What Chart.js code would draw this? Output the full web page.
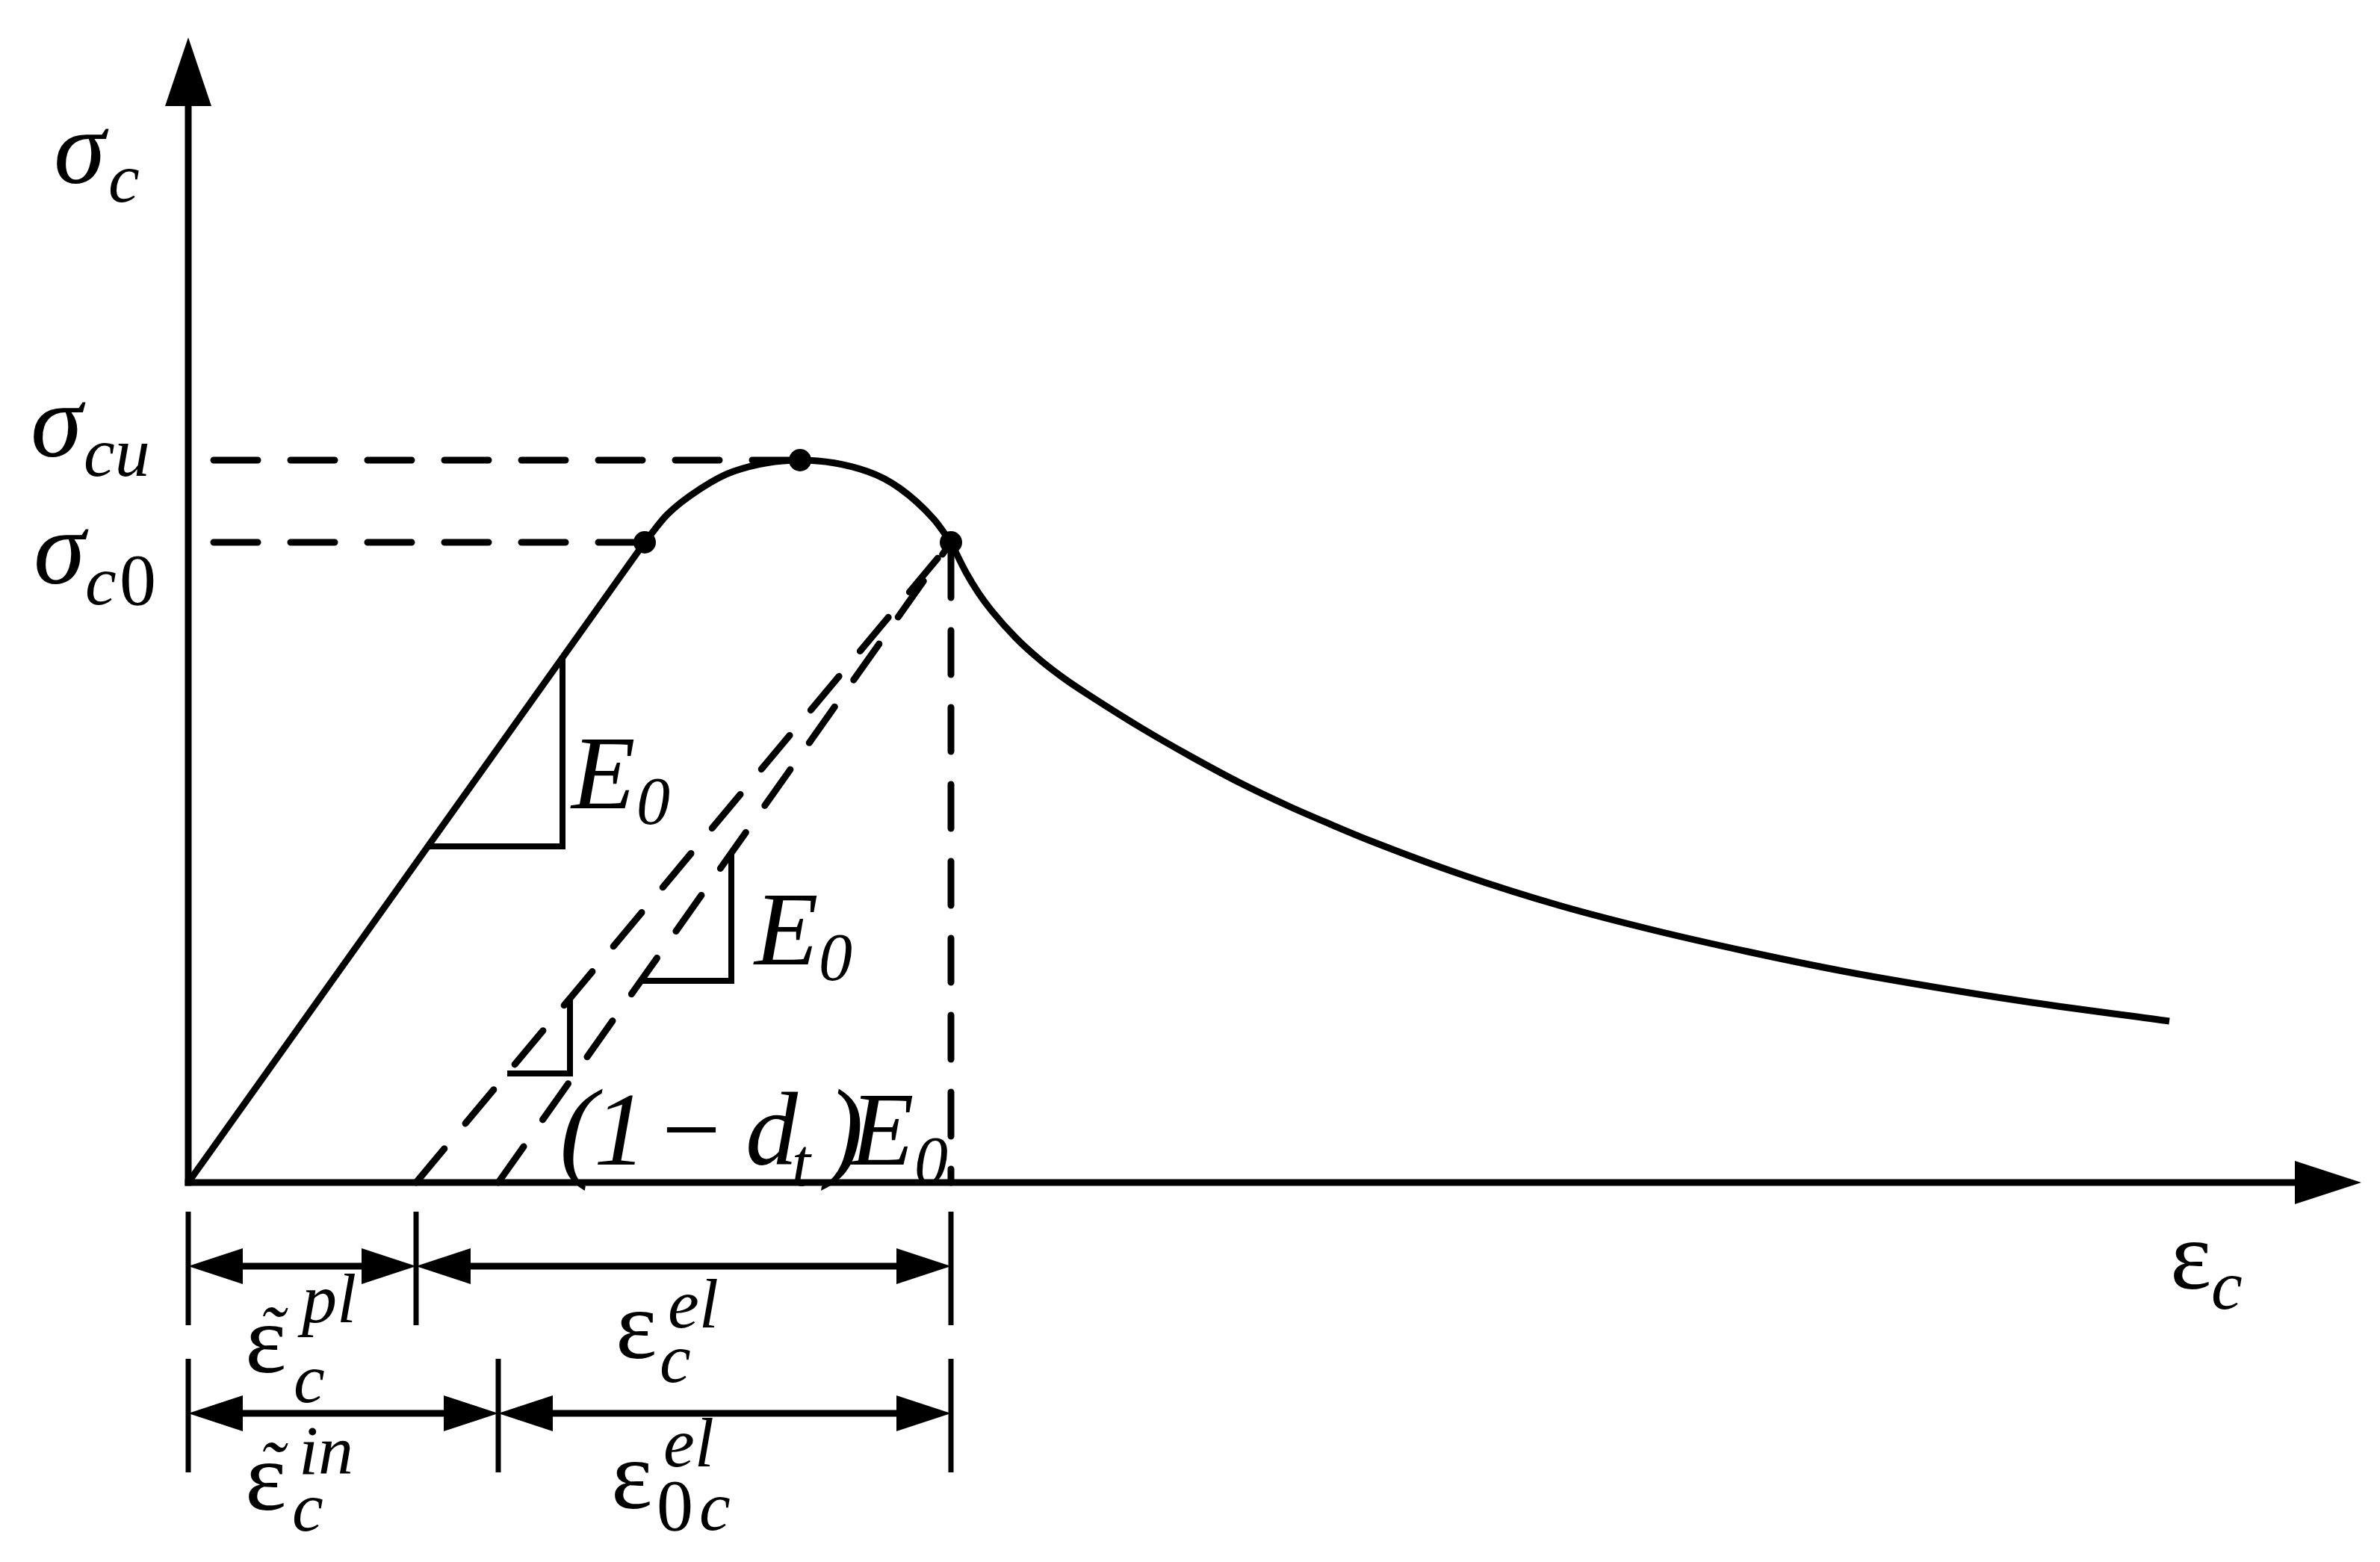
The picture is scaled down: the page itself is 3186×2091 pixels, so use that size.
<!DOCTYPE html>
<html><head><meta charset="utf-8">
<script src="https://cdn.jsdelivr.net/npm/chart.js@4.4.1/dist/chart.umd.min.js"></script>
<style>html,body{margin:0;padding:0;background:#fff;}canvas{display:block;}</style>
</head><body>
<canvas id="c" width="3186" height="2091" style="width:3186px;height:2091px"></canvas>
<script>
// ---------- data (arbitrary strain / stress units) ----------
const xAxisMax = 290.9;
const yAxisMax = 153.3;
const sigmaC0 = 85.7;
const sigmaCu = 96.7;
const epsC0 = 61.1;     // strain at σc0
const epsCu = 81.9;     // strain at peak σcu
const epsT  = 102.1;    // strain at unloading point
const epsPl = 30.5;     // plastic strain  ε̃c^pl
const epsIn = 41.5;     // inelastic strain ε̃c^in

const elasticX = [0, epsC0];
const elasticY = [0, sigmaC0];
const humpX = [61.1, 64.1, 68.6, 73.0, 81.9, 90.9, 95.3, 99.8, 102.1];
const humpY = [85.7, 89.4, 92.9, 95.2, 96.7, 95.2, 92.9, 88.8, 85.7];
const softX = [102.1, 104.1, 105.8, 107.5, 110.8, 114.1, 117.5, 120.8, 127.5, 134.1, 140.8, 147.5, 152.8, 158.1, 170.8, 183.5, 196.1, 208.8, 221.5, 234.1, 246.8, 265.2];
const softY = [85.7, 81.7, 78.9, 76.6, 72.9, 69.9, 67.3, 65.1, 60.9, 57.1, 53.5, 50.3, 48.0, 45.8, 41.1, 37.1, 33.8, 30.9, 28.3, 26.1, 24.1, 21.6];
const tri1X = [50.1, 50.1, 32.1];  const tri1Y = [70.3, 45.0, 45.0];
const tri2X = [72.7, 72.7, 60.6];  const tri2Y = [44.1, 27.0, 27.0];
const tri3X = [51.1, 51.1, 42.7];  const tri3Y = [24.7, 14.6, 14.6];
const dimRowY = [-11.2, -30.9];           // rows of dimension arrows
const dimTickTop = [-3.9, -23.6];
const dimTickBot = [-19.1, -38.8];

const pts = (xs, ys) => xs.map((v, i) => ({x: v, y: ys[i]}));

// ---------- styles ----------
const K = '#000';
const DASH = [59, 44];
const FONT = '"Liberation Serif", "Times New Roman", serif';

const base = {showLine: true, pointRadius: 0, borderColor: K, backgroundColor: K, fill: false, clip: false, tension: 0};

const datasets = [
  {data: pts([epsC0, epsCu, epsT], [sigmaC0, sigmaCu, sigmaC0]), showLine: false, pointRadius: 15, pointHoverRadius: 15,
   backgroundColor: K, borderColor: K, borderWidth: 0, clip: false},
  {...base, data: pts(elasticX, elasticY), borderWidth: 9},
  {...base, data: pts(humpX, humpY), borderWidth: 9, cubicInterpolationMode: 'monotone'},
  {...base, data: pts(softX, softY), borderWidth: 9, cubicInterpolationMode: 'monotone'},
  {...base, data: pts([0, epsCu], [sigmaCu, sigmaCu]), borderWidth: 9, borderDash: DASH, borderDashOffset: 69, borderCapStyle: 'round'},
  {...base, data: pts([0, epsC0], [sigmaC0, sigmaC0]), borderWidth: 9, borderDash: DASH, borderDashOffset: 69, borderCapStyle: 'round'},
  {...base, data: pts([epsT, epsT], [sigmaC0, 0]), borderWidth: 9, borderDash: DASH, borderDashOffset: 88, borderCapStyle: 'round'},
  {...base, data: pts([epsPl, epsT], [0, sigmaC0]), borderWidth: 9, borderDash: DASH, borderDashOffset: 0, borderCapStyle: 'round'},
  {...base, data: pts([epsIn, epsT], [0, sigmaC0]), borderWidth: 9, borderDash: DASH, borderDashOffset: 0, borderCapStyle: 'round'},
  {...base, data: pts(tri1X, tri1Y), borderWidth: 8, borderJoinStyle: 'miter'},
  {...base, data: pts(tri2X, tri2Y), borderWidth: 8, borderJoinStyle: 'miter'},
  {...base, data: pts(tri3X, tri3Y), borderWidth: 8, borderJoinStyle: 'miter'},
];

// labels: [text, size, inkLeft, baseline, inkTop, style]
const LABELS = [
  ['σ', 140, 76, 245], ['c', 94, 147, 270],
  ['σ', 140, 45, 611], ['cu', 94, 114, 637],
  ['σ', 140, 49, 781], ['c', 94, 116, 809], ['0', 98, 163, 809, null, 'normal'],
  ['E', 140, 763, 1082], ['0', 90, 855, 1103],
  ['E', 140, 1008, 1291], ['0', 90, 1099, 1312],
  ['(', 150, 754, 1562], ['1', 140, 799, 1559], ['−', 140, 892, 1559], ['d', 140, 1002, 1559],
  ['t', 90, 1063, 1587], [')', 150, 1098, 1562], ['E', 140, 1136, 1559], ['0', 90, 1227, 1584],
  ['ε', 132, 333, 1837, null, 'normal'], ['˜', 100, 352, null, 1750], ['pl', 94, 398, 1770], ['c', 94, 395, 1877],
  ['ε', 132, 829, 1818, null, 'normal'], ['el', 94, 896, 1777], ['c', 94, 885, 1850],
  ['ε', 132, 333, 2021, null, 'normal'], ['˜', 100, 352, null, 1931], ['in', 94, 405, 1973], ['c', 94, 393, 2049],
  ['ε', 132, 823, 2019, null, 'normal'], ['el', 94, 890, 1963], ['0', 98, 882, 2048, null, 'normal'], ['c', 94, 938, 2048],
  ['ε', 132, 2910, 1725, null, 'normal'], ['c', 94, 2962, 1752],
];

function tri(ctx, tx, ty, bx1, by1, bx2, by2) {
  ctx.beginPath(); ctx.moveTo(tx, ty); ctx.lineTo(bx1, by1); ctx.lineTo(bx2, by2); ctx.closePath(); ctx.fill();
}

const deco = {
  id: 'deco',
  afterDatasetsDraw(chart) {
    const {ctx, scales: {x, y}} = chart;
    const X = v => x.getPixelForValue(v), Y = v => y.getPixelForValue(v);
    ctx.save();
    ctx.fillStyle = K; ctx.strokeStyle = K; ctx.lineCap = 'butt';
    // axes
    const ox = X(0), oy = Y(0), tipX = X(xAxisMax), tipY = Y(yAxisMax);
    ctx.lineWidth = 9;
    ctx.beginPath(); ctx.moveTo(ox, oy + 4.5); ctx.lineTo(ox, tipY + 80); ctx.stroke();
    ctx.beginPath(); ctx.moveTo(ox - 4.5, oy); ctx.lineTo(tipX - 80, oy); ctx.stroke();
    tri(ctx, ox, tipY, ox - 31, tipY + 92, ox + 31, tipY + 92);
    tri(ctx, tipX, oy, tipX - 89, oy - 29, tipX - 89, oy + 29);
    // dimension rows
    const rows = [[0, epsPl, epsT], [0, epsIn, epsT]];
    rows.forEach((r, i) => {
      const ry = Y(dimRowY[i]);
      ctx.lineWidth = 7;
      r.forEach(v => { ctx.beginPath(); ctx.moveTo(X(v), Y(dimTickTop[i])); ctx.lineTo(X(v), Y(dimTickBot[i])); ctx.stroke(); });
      for (let k = 0; k < r.length - 1; k++) {
        const a = X(r[k]), b = X(r[k + 1]);
        ctx.lineWidth = 9;
        ctx.beginPath(); ctx.moveTo(a + 60, ry); ctx.lineTo(b - 60, ry); ctx.stroke();
        tri(ctx, a, ry, a + 73, ry - 24, a + 73, ry + 24);
        tri(ctx, b, ry, b - 73, ry - 24, b - 73, ry + 24);
      }
    });
    // labels
    ctx.textAlign = 'left'; ctx.textBaseline = 'alphabetic';
    LABELS.forEach(([t, s, l, bl, top, st]) => {
      ctx.font = `${st || 'italic'} ${s}px ${FONT}`;
      const m = ctx.measureText(t);
      const px = l + m.actualBoundingBoxLeft;
      const py = (bl === null || bl === undefined) ? top + m.actualBoundingBoxAscent : bl;
      ctx.fillText(t, px, py);
    });
    ctx.restore();
  }
};

new Chart(document.getElementById('c'), {
  type: 'scatter',
  data: {datasets},
  options: {
    responsive: false, animation: false, devicePixelRatio: 1,
    layout: {padding: {left: 252, right: 25, top: 50, bottom: 508}},
    scales: {
      x: {type: 'linear', display: false, min: 0, max: xAxisMax},
      y: {type: 'linear', display: false, min: 0, max: yAxisMax}
    },
    plugins: {legend: {display: false}, tooltip: {enabled: false}}
  },
  plugins: [deco]
});
</script>
</body></html>
